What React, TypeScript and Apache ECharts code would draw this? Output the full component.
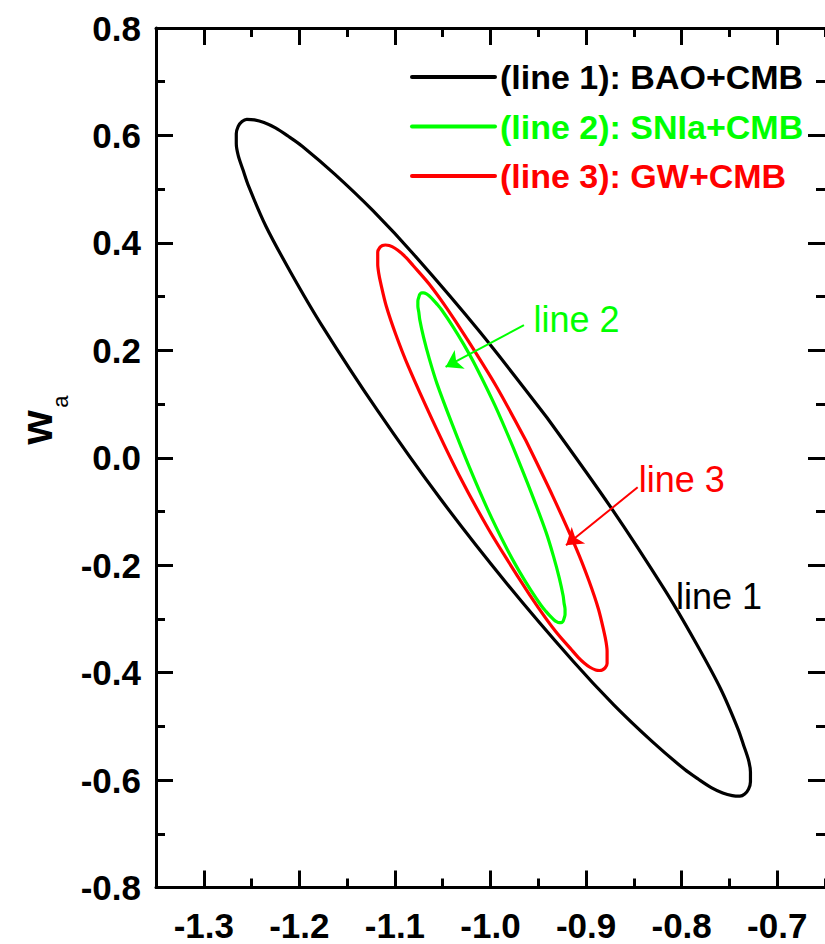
import React, { useEffect, useRef } from "react";
import * as echarts from "echarts";

// ---- axis ranges & ticks ----
const X_MIN = -1.35;
const X_MAX = -0.65;
const Y_MIN = -0.8;
const Y_MAX = 0.8;
const Y_INTERVAL = 0.2;
const xMajorTicks = [-1.3, -1.2, -1.1, -1.0, -0.9, -0.8, -0.7];
const X_MINOR_INTERVAL = 0.05;

// ---- series ----
const seriesNames = ["(line 1): BAO+CMB", "(line 2): SNIa+CMB", "(line 3): GW+CMB"];
const seriesColors = ["#000000", "#00ff00", "#ff0000"];

// contour points (w0, wa)
const line1BaoCmb: [number, number][] = [
  [-0.941, 0.075], [-1.011, 0.234], [-1.08, 0.378], [-1.123, 0.46], [-1.163, 0.528],
  [-1.197, 0.58], [-1.212, 0.599], [-1.225, 0.614], [-1.237, 0.624], [-1.247, 0.629],
  [-1.255, 0.63], [-1.26, 0.626], [-1.264, 0.617], [-1.266, 0.603], [-1.266, 0.585],
  [-1.264, 0.563], [-1.259, 0.536], [-1.253, 0.505], [-1.235, 0.431], [-1.209, 0.345],
  [-1.177, 0.248], [-1.119, 0.09],
  [-1.053, -0.075], [-0.983, -0.234], [-0.914, -0.378], [-0.871, -0.46], [-0.831, -0.528],
  [-0.797, -0.58], [-0.782, -0.599], [-0.769, -0.614], [-0.757, -0.624], [-0.747, -0.629],
  [-0.739, -0.63], [-0.734, -0.626], [-0.73, -0.617], [-0.728, -0.603], [-0.728, -0.585],
  [-0.73, -0.563], [-0.735, -0.536], [-0.741, -0.505], [-0.759, -0.431], [-0.785, -0.345],
  [-0.817, -0.248], [-0.875, -0.09], [-0.941, 0.075],
];

const line2SniaCmb: [number, number][] = [
  [-0.976, 0.018], [-0.995, 0.096], [-1.015, 0.169], [-1.028, 0.211], [-1.04, 0.246],
  [-1.051, 0.275], [-1.056, 0.286], [-1.06, 0.294], [-1.064, 0.301], [-1.067, 0.305],
  [-1.07, 0.307], [-1.072, 0.307], [-1.074, 0.304], [-1.075, 0.299], [-1.076, 0.292],
  [-1.076, 0.282], [-1.075, 0.271], [-1.074, 0.257], [-1.07, 0.224], [-1.064, 0.184],
  [-1.056, 0.138], [-1.04, 0.062],
  [-1.022, -0.018], [-1.003, -0.096], [-0.983, -0.169], [-0.97, -0.211], [-0.958, -0.246],
  [-0.947, -0.275], [-0.942, -0.286], [-0.938, -0.294], [-0.934, -0.301], [-0.931, -0.305],
  [-0.928, -0.307], [-0.926, -0.307], [-0.924, -0.304], [-0.923, -0.299], [-0.922, -0.292],
  [-0.922, -0.282], [-0.923, -0.271], [-0.924, -0.257], [-0.928, -0.224], [-0.934, -0.184],
  [-0.942, -0.138], [-0.958, -0.062], [-0.976, 0.018],
];

const line3GwCmb: [number, number][] = [
  [-0.963, 0.032], [-0.994, 0.133], [-1.026, 0.225], [-1.046, 0.279], [-1.064, 0.323],
  [-1.081, 0.358], [-1.088, 0.372], [-1.094, 0.382], [-1.1, 0.39], [-1.106, 0.395],
  [-1.11, 0.396], [-1.113, 0.395], [-1.116, 0.391], [-1.118, 0.383], [-1.118, 0.373],
  [-1.118, 0.36], [-1.117, 0.344], [-1.115, 0.326], [-1.109, 0.282], [-1.099, 0.229],
  [-1.086, 0.17], [-1.061, 0.071],
  [-1.033, -0.032], [-1.002, -0.133], [-0.97, -0.225], [-0.95, -0.279], [-0.932, -0.323],
  [-0.915, -0.358], [-0.908, -0.372], [-0.902, -0.382], [-0.896, -0.39], [-0.89, -0.395],
  [-0.886, -0.396], [-0.883, -0.395], [-0.88, -0.391], [-0.878, -0.383], [-0.878, -0.373],
  [-0.878, -0.36], [-0.879, -0.344], [-0.881, -0.326], [-0.887, -0.282], [-0.897, -0.229],
  [-0.91, -0.17], [-0.935, -0.071], [-0.963, 0.032],
];

// ---- annotations (data coordinates) ----
const annotationLabels = ["line 1", "line 2", "line 3"];
const annotationAnchors: [number, number][] = [
  [-0.806, -0.258],
  [-0.955, 0.257],
  [-0.845, -0.04],
];
const arrowLine2: [[number, number], [number, number]] = [[-0.965, 0.247], [-1.047, 0.169]];
const arrowLine3: [[number, number], [number, number]] = [[-0.846, -0.055], [-0.921, -0.163]];

const FONT = "'Liberation Sans', Arial, Helvetica, sans-serif";

export default function App() {
  const ref = useRef<HTMLDivElement>(null);

  useEffect(() => {
    if (!ref.current) return;
    const chart = echarts.init(ref.current, null, { renderer: "svg" });
    const axisLineStyle = { color: "#000", width: 3 };

    const fmt = (v: number) => (Math.abs(v) < 1e-9 ? "0.0" : v.toFixed(1));

    const majorX = (position: "bottom" | "top", showLabel: boolean) => ({
      type: "value",
      position,
      min: X_MIN,
      max: X_MAX,
      axisLine: { show: true, onZero: false, lineStyle: axisLineStyle },
      axisTick: { show: true, inside: true, length: 17, lineStyle: axisLineStyle, customValues: xMajorTicks },
      axisLabel: {
        show: showLabel,
        customValues: xMajorTicks,
        formatter: fmt,
        fontSize: 35,
        fontWeight: "bold",
        color: "#000",
        fontFamily: FONT,
        margin: 20,
      },
      splitLine: { show: false },
    });
    const minorX = (position: "bottom" | "top") => ({
      type: "value",
      position,
      min: X_MIN,
      max: X_MAX,
      interval: X_MINOR_INTERVAL,
      axisLine: { show: false, onZero: false },
      axisTick: { show: true, inside: true, length: 9, lineStyle: axisLineStyle },
      axisLabel: { show: false },
      splitLine: { show: false },
    });
    const yAx = (position: "left" | "right", showLabel: boolean) => ({
      type: "value",
      position,
      min: Y_MIN,
      max: Y_MAX,
      interval: Y_INTERVAL,
      axisLine: { show: showLabel, onZero: false, lineStyle: axisLineStyle },
      axisTick: { show: true, inside: true, length: 17, lineStyle: axisLineStyle },
      minorTick: { show: true, splitNumber: 2, length: 9, lineStyle: axisLineStyle },
      axisLabel: {
        show: showLabel,
        formatter: fmt,
        fontSize: 35,
        fontWeight: "bold",
        color: "#000",
        fontFamily: FONT,
        margin: 15,
      },
      splitLine: { show: false },
      minorSplitLine: { show: false },
    });

    const arrowMark = (pts: [[number, number], [number, number]], color: string) => ({
      silent: true,
      symbol: ["none", "arrow"],
      symbolSize: 16,
      label: { show: false },
      lineStyle: { color, width: 2, type: "solid" },
      emphasis: { disabled: true },
      data: [[{ coord: pts[0] }, { coord: pts[1] }]],
    });

    const datasets = [line1BaoCmb, line2SniaCmb, line3GwCmb];
    const series = datasets.map((d, i) => ({
      name: seriesNames[i],
      type: "line",
      data: d,
      xAxisIndex: 0,
      yAxisIndex: 0,
      smooth: 0.3,
      symbol: "none",
      showSymbol: false,
      silent: true,
      lineStyle: { color: seriesColors[i], width: 3.2, join: "round", cap: "round" },
      itemStyle: { color: seriesColors[i] },
      z: 3 - i,
      markLine: i === 1 ? arrowMark(arrowLine2, seriesColors[1]) : i === 2 ? arrowMark(arrowLine3, seriesColors[2]) : undefined,
    }));

    chart.setOption({
      animation: false,
      backgroundColor: "#ffffff",
      grid: { left: 156, top: 28, width: 670, height: 859.5, containLabel: false },
      xAxis: [majorX("bottom", true), minorX("bottom"), majorX("top", false), minorX("top")],
      yAxis: [yAx("left", true), yAx("right", false)],
      legend: {
        show: true,
        orient: "vertical",
        left: 410,
        top: 60,
        padding: 0,
        itemWidth: 83,
        itemHeight: 34,
        itemGap: 15.5,
        selectedMode: false,
        itemStyle: { opacity: 0, borderWidth: 0 },
        lineStyle: { width: 4 },
        textStyle: { fontSize: 34, fontWeight: "bold", fontFamily: FONT },
        data: seriesNames.map((n, i) => ({ name: n, textStyle: { color: seriesColors[i] } })),
      },
      series,
    });

    const annColors = [seriesColors[0], seriesColors[1], seriesColors[2]];
    const annText = annotationLabels.map((t, i) => {
      const p = chart.convertToPixel({ seriesIndex: 0 }, annotationAnchors[i]) as number[];
      return {
        type: "text",
        x: p[0],
        y: p[1],
        silent: true,
        style: {
          text: t,
          fill: annColors[i],
          fontSize: 36,
          fontFamily: FONT,
          align: "left",
          verticalAlign: "middle",
        },
      };
    });

    chart.setOption({
      graphic: [
        ...annText,
        {
          type: "text",
          x: 36,
          y: 427.5,
          rotation: Math.PI / 2,
          silent: true,
          style: { text: "w", fill: "#000", fontSize: 44, fontWeight: "bold", fontFamily: FONT, align: "center", verticalAlign: "middle" },
        },
        {
          type: "text",
          x: 60.5,
          y: 401.5,
          rotation: Math.PI / 2,
          silent: true,
          style: { text: "a", fill: "#000", fontSize: 22, fontFamily: FONT, align: "center", verticalAlign: "middle" },
        },
      ],
    });

    return () => chart.dispose();
  }, []);

  return (
    <div
      ref={ref}
      style={{ position: "absolute", left: 0, top: 0, width: 825, height: 944, background: "#fff" }}
    />
  );
}
